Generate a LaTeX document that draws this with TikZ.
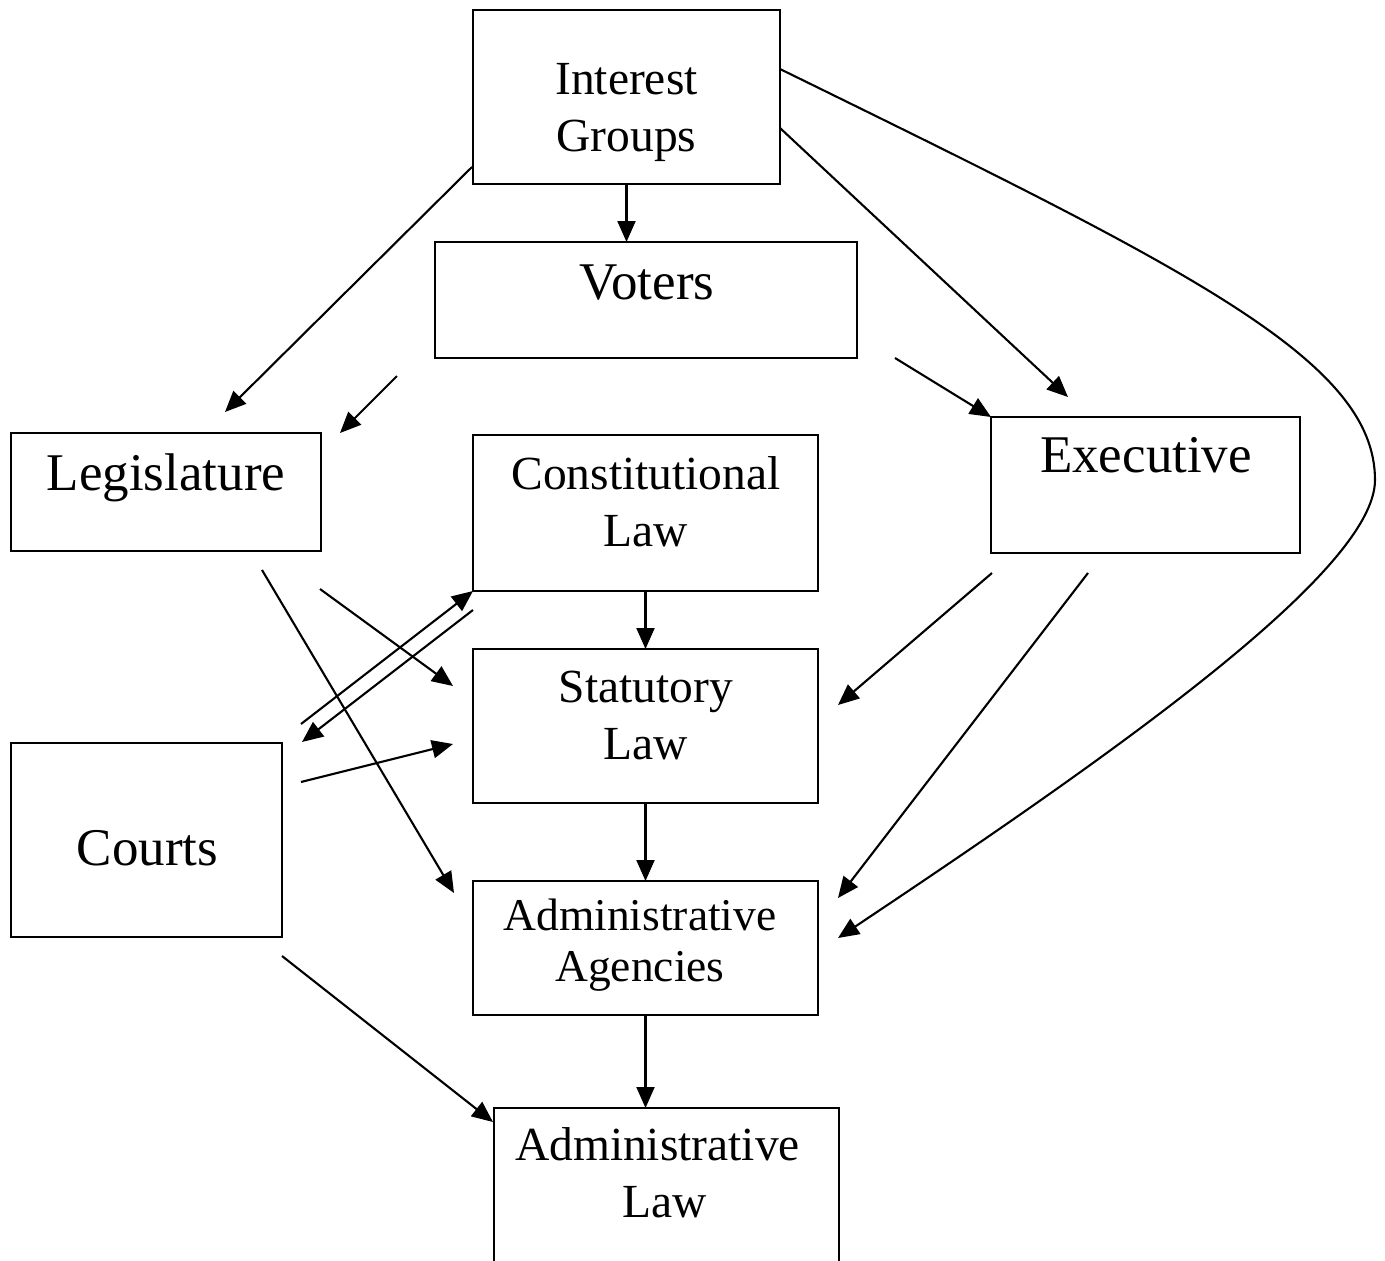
\documentclass[tikz,border=0pt]{standalone}
\usepackage{fontspec}
\setmainfont{Liberation Serif}
\usetikzlibrary{arrows.meta}
\tikzset{
  blocco/.style={draw,line width=2.6pt,inner sep=0pt,outer sep=0pt},
  freccia/.style={line width=2.1pt,-{Triangle[length=21pt,width=18pt]}},
  scritta/.style={inner sep=0pt,align=center},
  grande/.style={scritta,font=\fontsize{53}{60}\selectfont},
  media/.style={scritta,font=\fontsize{47.5}{57}\selectfont},
  piccola/.style={scritta,font=\fontsize{45.5}{51}\selectfont}
}

\begin{document}
\begin{tikzpicture}[x=1pt,y=-1pt]
\path[use as bounding box,clip] (0,0) rectangle (1385,1261);

% riquadri
\node[blocco,minimum width=307pt,minimum height=174pt] (ig)  at (626.5,97)  {};
\node[blocco,minimum width=422pt,minimum height=116pt] (vot) at (646,300)   {};
\node[blocco,minimum width=310pt,minimum height=118pt] (leg) at (166,492)   {};
\node[blocco,minimum width=345pt,minimum height=156pt] (cos) at (645.5,513) {};
\node[blocco,minimum width=309pt,minimum height=136pt] (exe) at (1145.5,485) {};
\node[blocco,minimum width=345pt,minimum height=154pt] (sta) at (645.5,726) {};
\node[blocco,minimum width=271pt,minimum height=194pt] (cou) at (146.5,840) {};
\node[blocco,minimum width=345pt,minimum height=134pt] (age) at (645.5,948) {};
\node[blocco,minimum width=345pt,minimum height=192pt] (law) at (666.5,1204) {};

% testi
\node[media]   (ig-t)  at (626.5,112.5) {Interest\\Groups};
\node[grande]  (vot-t) at (647,282.5)   {Voters};
\node[grande]  (leg-t) at (166,477.6)   {Legislature};
\node[media]   (cos-t) at (646,501.3)   {Constitutional\\Law};
\node[grande]  (exe-t) at (1146,455)    {Executive};
\node[media]   (sta-t) at (646,715.5)   {Statutory\\Law};
\node[grande]  (cou-t) at (147.5,848)   {Courts};
\node[piccola] (age-t) at (640,945)     {Administrative\\Agencies};
\node[media]   (law-t) at (657.5,1172.3) {Administrative\\\hspace{15pt}Law};

% estremi liberi delle frecce
\foreach \n/\x/\y in {
  ig-l/472/167, leg-in/225/412,
  vot-l/397/376, leg-in2/340/433,
  ig-r/780/128, exe-in/1068/397,
  vot-r/895/358,
  ig-c/780/69, curva/1375/480, age-in3/838/938,
  leg-r/320/589, sta-in1/453/686,
  leg-b/262/570, age-in1/454/893,
  cou-a/301/724,
  cos-l/473/610, cou-in/302/742,
  cou-b/301/782, sta-in2/453/744,
  exe-l/992/573, sta-in3/838/705,
  exe-b/1088/573, age-in2/838/898,
  cou-c/282/956, law-in/493/1122}{
  \coordinate (\n) at (\x,\y);
}

% frecce oblique
\foreach \a/\b in {
  ig-l/leg-in, vot-l/leg-in2, ig-r/exe-in, vot-r/exe.north west,
  leg-r/sta-in1, leg-b/age-in1, cou-a/cos.south west, cos-l/cou-in,
  cou-b/sta-in2, exe-l/sta-in3, exe-b/age-in2, cou-c/law-in}{
  \draw[freccia] (\a) -- (\b);
}

% frecce verticali
\draw[freccia] (ig.south) -- (ig.south |- vot.north);
\draw[freccia] (cos.south) -- (sta.north);
\draw[freccia] (sta.south) -- (age.north);
\draw[freccia] (age.south) -- (age.south |- law.north);

% gruppi di interesse -> agenzie
\draw[freccia] (ig-c) .. controls (1190,270) and (1375,360) .. (curva)
  .. controls (1375,570) and (1120,750) .. (age-in3);

\end{tikzpicture}
\end{document}
